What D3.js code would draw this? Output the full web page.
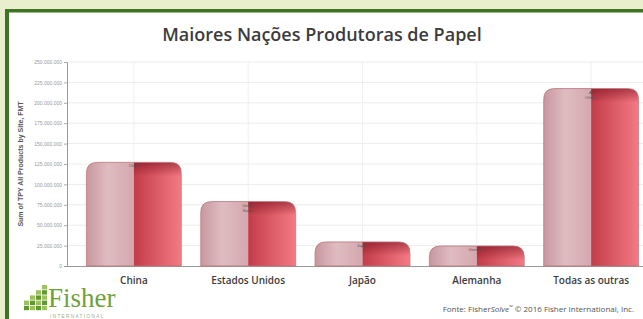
<!DOCTYPE html>
<html>
<head>
<meta charset="utf-8">
<script src="https://cdn.jsdelivr.net/npm/d3@7"></script>
<style>
    html, body { margin: 0; padding: 0; background: #e9efcd; }
    svg { display: block; }
</style>
</head>
<body>
<div id="chart"></div>
<script>
// dados
var categories = ["China", "Estados Unidos", "Japão", "Alemanha", "Todas as outras"];
var innerLabels = [["China"], ["United", "States"], ["Japan"], ["Germany"], ["All", "Others"]];
var values = [127000000, 79000000, 29500000, 24500000, 217500000];
var yTicks = [0, 25000000, 50000000, 75000000, 100000000, 125000000, 150000000, 175000000, 200000000, 225000000, 250000000];

var W = 643, H = 319;

var svg = d3.select("#chart")
        .append("svg")
        .attr("width", W)
        .attr("height", H),
    defs = svg.append("defs"),
    x = d3.scaleBand()
        .domain(categories)
        .range([67, 658])
        .padding(0.17),
    y = d3.scaleLinear()
        .domain([0, 250000000])
        .range([266, 62]),
    fmt = d3.formatLocale({decimal: ",", thousands: ".", grouping: [3], currency: ["", ""]}).format(",d");

// fundo e moldura verde
svg.append("rect").attr("width", W).attr("height", H).attr("fill", "#e9efcd");
svg.append("rect").attr("x", 9).attr("y", 12).attr("width", W - 9).attr("height", H - 12).attr("fill", "#fff");
svg.append("rect").attr("x", 5).attr("y", 9).attr("width", W - 5).attr("height", 3.5).attr("fill", "#3f7424");
svg.append("rect").attr("x", 5).attr("y", 9).attr("width", 4).attr("height", H - 9).attr("fill", "#3f7424");

// gradientes das barras
var gl = defs.append("linearGradient").attr("id", "gLeft");
gl.append("stop").attr("offset", "0%").attr("stop-color", "#c8979e");
gl.append("stop").attr("offset", "45%").attr("stop-color", "#dfbcc0");
gl.append("stop").attr("offset", "100%").attr("stop-color", "#d3a8ae");

var gr = defs.append("linearGradient").attr("id", "gRight");
gr.append("stop").attr("offset", "0%").attr("stop-color", "#c23c49");
gr.append("stop").attr("offset", "100%").attr("stop-color", "#f47a83");

var gt = defs.append("linearGradient").attr("id", "gTop").attr("x1", 0).attr("y1", 0).attr("x2", 0).attr("y2", 1);
gt.append("stop").attr("offset", "0%").attr("stop-color", "#7a0f1e").attr("stop-opacity", 0.55);
gt.append("stop").attr("offset", "100%").attr("stop-color", "#7a0f1e").attr("stop-opacity", 0);

// título
svg.append("text")
    .attr("x", 322)
    .attr("y", 41)
    .attr("text-anchor", "middle")
    .attr("font-family", "Open Sans, sans-serif")
    .attr("font-weight", 600)
    .attr("font-size", 18)
    .attr("fill", "#3c3c3c")
    .text("Maiores Nações Produtoras de Papel");

// grade
var g = svg.append("g");

g.selectAll(".hgrid")
    .data(yTicks.slice(1))
    .enter()
    .append("line")
    .attr("x1", 67).attr("x2", W)
    .attr("y1", function(d) { return y(d); })
    .attr("y2", function(d) { return y(d); })
    .attr("stroke", "#ececec")
    .attr("stroke-width", 1);

g.selectAll(".vgrid")
    .data(categories)
    .enter()
    .append("line")
    .attr("x1", function(d) { return x(d) + x.bandwidth() / 2; })
    .attr("x2", function(d) { return x(d) + x.bandwidth() / 2; })
    .attr("y1", 62).attr("y2", 266)
    .attr("stroke", "#efefef");

// eixo y
var yAxis = g.append("g")
    .attr("transform", "translate(67,0)")
    .call(d3.axisLeft(y).tickValues(yTicks).tickFormat(fmt).tickSize(3).tickPadding(2));
yAxis.select(".domain").attr("stroke", "#999");
yAxis.selectAll(".tick line").attr("stroke", "#aaa");
yAxis.selectAll("text")
    .attr("font-family", "Arial, sans-serif")
    .attr("font-size", 5)
    .attr("fill", "#999");

g.append("line")
    .attr("x1", 64).attr("x2", W)
    .attr("y1", 266.5).attr("y2", 266.5)
    .attr("stroke", "#999");

svg.append("text")
    .attr("transform", "translate(23,164) rotate(-90)")
    .attr("text-anchor", "middle")
    .attr("font-family", "Arial, sans-serif")
    .attr("font-weight", "bold")
    .attr("font-size", 7)
    .attr("fill", "#555")
    .text("Sum of TPY All Products by Site, FMT");

// barras
function topRounded(x0, y0, w, h, r) {
    r = Math.min(r, h, w / 2);
    return "M" + x0 + "," + (y0 + h) +
        "V" + (y0 + r) +
        "Q" + x0 + "," + y0 + " " + (x0 + r) + "," + y0 +
        "H" + (x0 + w - r) +
        "Q" + (x0 + w) + "," + y0 + " " + (x0 + w) + "," + (y0 + r) +
        "V" + (y0 + h) + "Z";
}

var bars = g.selectAll(".bar")
    .data(categories)
    .enter()
    .append("g")
    .attr("class", "bar");

bars.each(function(d, i) {
    var el = d3.select(this),
        bx = x(d),
        bw = x.bandwidth(),
        by = y(values[i]),
        bh = y(0) - by,
        id = "clip" + i,
        p = topRounded(bx, by, bw, bh, 11);

    defs.append("clipPath").attr("id", id).append("path").attr("d", p);

    var c = el.append("g").attr("clip-path", "url(#" + id + ")");
    c.append("rect")
        .attr("x", bx).attr("y", by)
        .attr("width", bw / 2).attr("height", bh)
        .attr("fill", "url(#gLeft)");
    c.append("rect")
        .attr("x", bx + bw / 2).attr("y", by)
        .attr("width", bw / 2).attr("height", bh)
        .attr("fill", "url(#gRight)");
    c.append("rect")
        .attr("x", bx + bw / 2).attr("y", by)
        .attr("width", bw / 2).attr("height", Math.min(14, bh))
        .attr("fill", "url(#gTop)");

    el.append("path")
        .attr("d", p)
        .attr("fill", "none")
        .attr("stroke", "#b9727a")
        .attr("stroke-width", 0.8);

    el.selectAll("text.inner")
        .data(innerLabels[i])
        .enter()
        .append("text")
        .attr("class", "inner")
        .attr("x", bx + bw / 2)
        .attr("y", function(t, k) { return by + 5 + k * 5; })
        .attr("text-anchor", "middle")
        .attr("font-family", "Arial, sans-serif")
        .attr("font-size", 4)
        .attr("fill", "#555")
        .text(function(t) { return t; });
});

// rótulos das categorias
g.selectAll(".cat")
    .data(categories)
    .enter()
    .append("text")
    .attr("x", function(d) { return x(d) + x.bandwidth() / 2; })
    .attr("y", 284)
    .attr("text-anchor", "middle")
    .attr("font-family", "Open Sans, sans-serif")
    .attr("font-weight", 600)
    .attr("font-size", 10)
    .attr("fill", "#3c3c3c")
    .text(function(d) { return d; });

// logotipo Fisher
var logo = svg.append("g");
var cols = [2, 3, 4, 5];
cols.forEach(function(n, ci) {
    for (var k = 0; k < n; k++) {
        logo.append("rect")
            .attr("x", 24 + ci * 6)
            .attr("y", 311 - (k + 1) * 5.2)
            .attr("width", 5)
            .attr("height", 4.4)
            .attr("fill", (k + ci) % 2 ? "#9cc35a" : "#5f9a2c");
    }
});
logo.append("text")
    .attr("x", 48)
    .attr("y", 307)
    .attr("font-family", "Liberation Serif, DejaVu Serif, serif")
    .attr("font-size", 27)
    .attr("fill", "#6fa13a")
    .text("Fisher");
logo.append("text")
    .attr("x", 50)
    .attr("y", 318)
    .attr("font-family", "Arial, sans-serif")
    .attr("font-size", 4.6)
    .attr("letter-spacing", 1.4)
    .attr("fill", "#9aab8a")
    .text("INTERNATIONAL");

// fonte
var src = svg.append("text")
    .attr("x", 634)
    .attr("y", 312)
    .attr("text-anchor", "end")
    .attr("font-family", "Open Sans, sans-serif")
    .attr("font-size", 8)
    .attr("fill", "#555");
src.append("tspan").text("Fonte: Fisher");
src.append("tspan").attr("font-style", "italic").text("Solve");
src.append("tspan").attr("font-size", 5).attr("dy", -3).text("™");
src.append("tspan").attr("dy", 3).text(" © 2016 Fisher International, Inc.");
</script>
</body>
</html>
